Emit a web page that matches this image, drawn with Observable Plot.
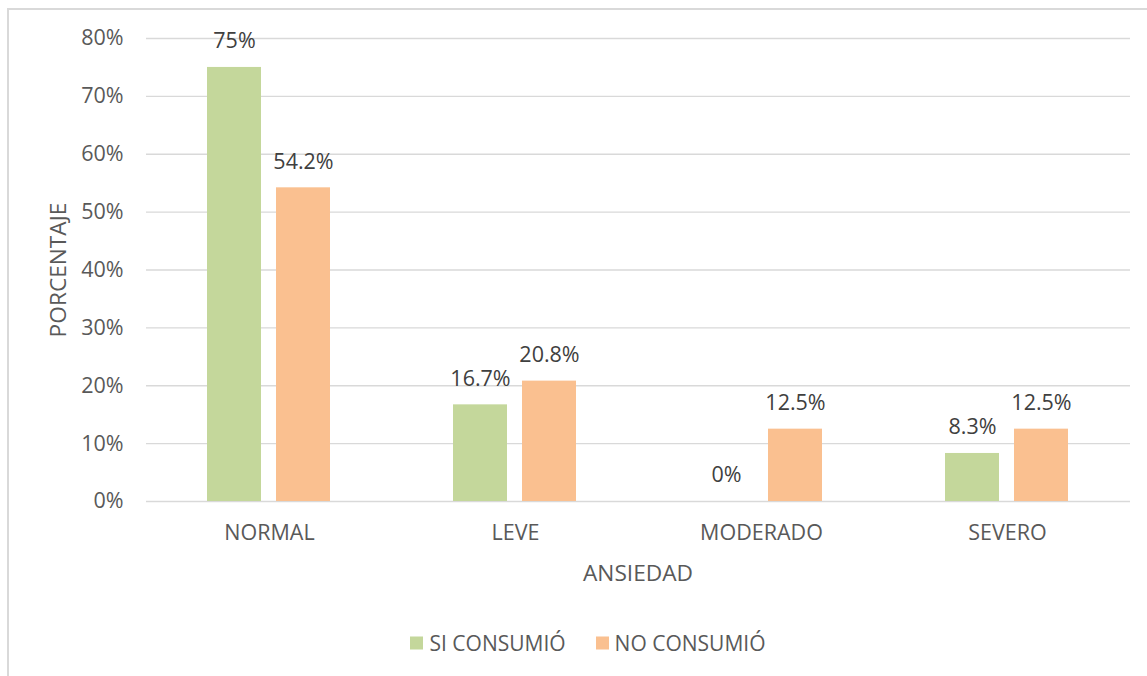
<!DOCTYPE html>
<html><head><meta charset="utf-8">
<script src="https://cdn.jsdelivr.net/npm/d3@7"></script>
<script src="https://cdn.jsdelivr.net/npm/@observablehq/plot@0.6"></script>
<style>
body{margin:0;background:#fff;font-family:"Open Sans",sans-serif;overflow:hidden}
#wrap{position:relative;width:1147px;height:676px;overflow:hidden}
#frame{position:absolute;left:7px;top:8px;width:1200px;height:720px;border:2px solid #d9d9d9;box-sizing:border-box}
#chart{position:absolute;left:0;top:0}
.ttl{position:absolute;color:#595959;font-size:22.7px;white-space:nowrap;line-height:1}
#ytitle{left:58px;top:270px;transform:translate(-50%,-50%) rotate(-90deg)}
#xtitle{left:638px;top:573px;transform:translate(-50%,-50%)}
#legend{position:absolute;left:0;width:1147px;top:643px;transform:translateY(-50%);display:flex;justify-content:center;gap:30px;color:#595959;font-size:21px;padding-left:29px;box-sizing:border-box;line-height:1}
#legend span.it{display:flex;align-items:center;gap:6px}
#legend i{display:inline-block;width:13px;height:13px}
</style></head>
<body><div id="wrap"><div id="frame"></div><div id="chart"></div>
<div class="ttl" id="ytitle">PORCENTAJE</div>
<div class="ttl" id="xtitle">ANSIEDAD</div>
<div id="legend"></div>
</div>
<script>
const categories = ["NORMAL", "LEVE", "MODERADO", "SEVERO"];
const series = ["SI CONSUMIÓ", "NO CONSUMIÓ"];
const siConsumio = [75, 16.7, 0, 8.3];
const noConsumio = [54.2, 20.8, 12.5, 12.5];
const yTicks = [0, 10, 20, 30, 40, 50, 60, 70, 80];
const colors = ["#C4D79B", "#FAC090"];

const data = categories.flatMap((c, i) => [
  {cat: c, serie: series[0], v: siConsumio[i]},
  {cat: c, serie: series[1], v: noConsumio[i]}
]);
const fmt = v => (Number.isInteger(v) ? v : v.toFixed(1)) + "%";

const chart = Plot.plot({
  width: 1147, height: 676,
  marginLeft: 145, marginRight: 16, marginTop: 38, marginBottom: 175,
  style: {fontFamily: "'Open Sans', sans-serif", fontSize: "21.5px", color: "#595959", background: "transparent"},
  fx: {domain: categories, padding: 0, label: null, tickSize: 0, tickPadding: 23, axis: "bottom"},
  x: {domain: series, paddingInner: 15/70, paddingOuter: 61/70, axis: null},
  y: {domain: [0, 80], ticks: yTicks, tickFormat: d => d + "%", tickSize: 0, tickPadding: 23, label: null},
  color: {domain: series, range: colors},
  marks: [
    Plot.gridY(yTicks, {stroke: "#d9d9d9", strokeOpacity: 1, strokeWidth: 1.3}),
    Plot.barY(data, {fx: "cat", x: "serie", y: "v", fill: "serie"}),
    Plot.text(data, {fx: "cat", x: "serie", y: "v", text: d => fmt(d.v), dy: -26, fill: "#404040", fontSize: 21.5})
  ]
});
document.getElementById("chart").appendChild(chart);

const lg = document.getElementById("legend");
series.forEach((s, i) => {
  const it = document.createElement("span");
  it.className = "it";
  it.innerHTML = `<i style="background:${colors[i]}"></i>${s}`;
  lg.appendChild(it);
});
</script>
</body></html>
